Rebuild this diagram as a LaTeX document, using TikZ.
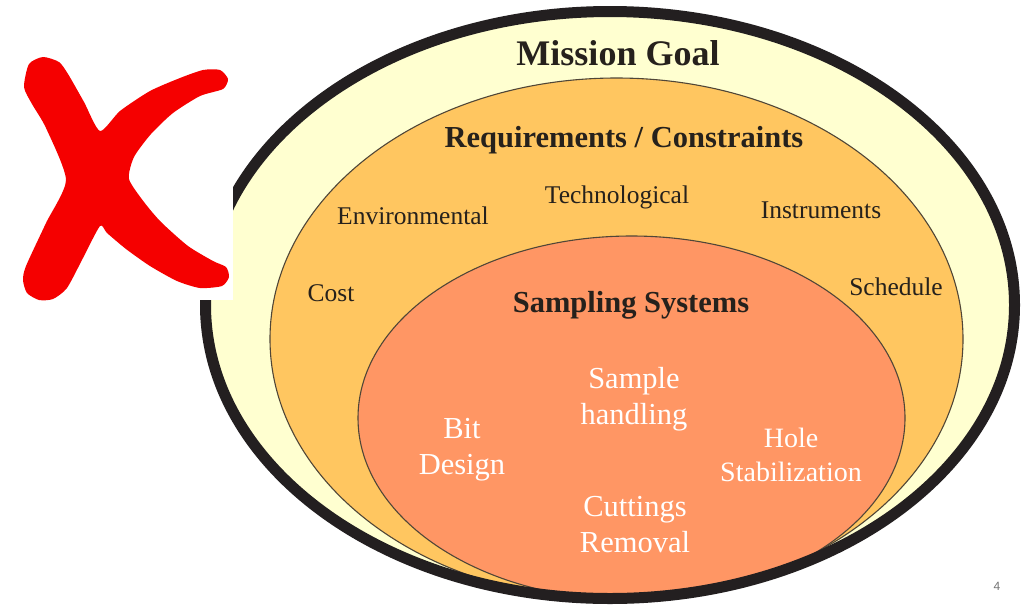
\documentclass[tikz,border=0pt]{standalone}
\usepackage{fontspec}
\setmainfont{Liberation Serif}
\newfontfamily\pagenumfont{Liberation Sans}
\definecolor{goalfill}{RGB}{255,255,208}
\definecolor{reqfill}{RGB}{255,198,96}
\definecolor{sampfill}{RGB}{255,150,100}
\definecolor{rim}{RGB}{35,31,32}
\definecolor{ink}{RGB}{38,33,28}
\definecolor{thinline}{RGB}{80,70,55}
\definecolor{crossred}{RGB}{245,0,0}
\begin{document}
\begin{tikzpicture}[x=1pt,y=-1pt,
  layer/.style={draw=thinline,line width=1.1pt},
  title/.style={font=\fontsize{36}{40}\selectfont\bfseries,text=ink,inner sep=0pt},
  head/.style={font=\fontsize{30.5}{36}\selectfont\bfseries,text=ink,inner sep=0pt},
  item/.style={font=\fontsize{25.5}{30}\selectfont,text=ink,inner sep=0pt},
  part/.style={font=\fontsize{30.5}{36}\selectfont,text=white,align=center,inner sep=0pt},
  pagenum/.style={font=\pagenumfont\fontsize{12}{14}\selectfont,text=black!55,inner sep=0pt}]
\useasboundingbox (0,0) rectangle (1025,606);
\fill[white] (0,0) rectangle (1025,606);

% nested goal / requirement / system regions
\fill[goalfill] (610,305) ellipse [x radius=404.5pt, y radius=293.5pt];
\filldraw[layer,fill=reqfill] (616.5,339) ellipse [x radius=346.5pt, y radius=261pt];
\filldraw[layer,fill=sampfill] (631.5,418) ellipse [x radius=273.5pt, y radius=182pt];
\draw[rim,line width=11pt] (610,305) ellipse [x radius=404.5pt, y radius=293.5pt];

% labels
\node[title] (goal) at (618,53) {Mission Goal};
\node[head] (req) at (624,140) {Requirements / Constraints};
\node[item] (env) at (413,216) {Environmental};
\node[item] (tech) at (617,197) {Technological};
\node[item] (inst) at (821,210) {Instruments};
\node[item] (cost) at (331,293) {Cost};
\node[item] (sched) at (896,287) {Schedule};
\node[head] (samp) at (631,305) {Sampling Systems};
\node[part] (handling) at (634,399) {Sample\\handling};
\node[part] (bit) at (462,450) {Bit\\Design};
\node[part,font=\fontsize{28}{34}\selectfont] (hole) at (791,455) {Hole\\Stabilization};
\node[part] (cuttings) at (635,525) {Cuttings\\Removal};
\node[pagenum] (pg) at (997,586) {4};

% white patch with the red cross
\fill[white] (0,0) rectangle (233,300);
\fill[crossred] plot[smooth cycle,tension=0.4] coordinates {
  (29,64) (43,57) (59,62) (68,74) (84,102) (100,131)
  (120,111) (150,91) (180,78) (203,70) (220,70) (228,79) (223,89)
  (200,96) (173,113) (151,134) (134,157) (129,179)
  (144,202) (161,222) (188,246) (213,261) (226,267) (229,277) (222,286)
  (200,288) (177,281) (150,266) (126,249) (107,233) (100,226)
  (83,258) (67,288) (53,299) (39,300) (27,293) (23,280) (26,266)
  (46,223) (66,180)
  (46,128) (32,104) (24,87)};
\end{tikzpicture}
\end{document}
